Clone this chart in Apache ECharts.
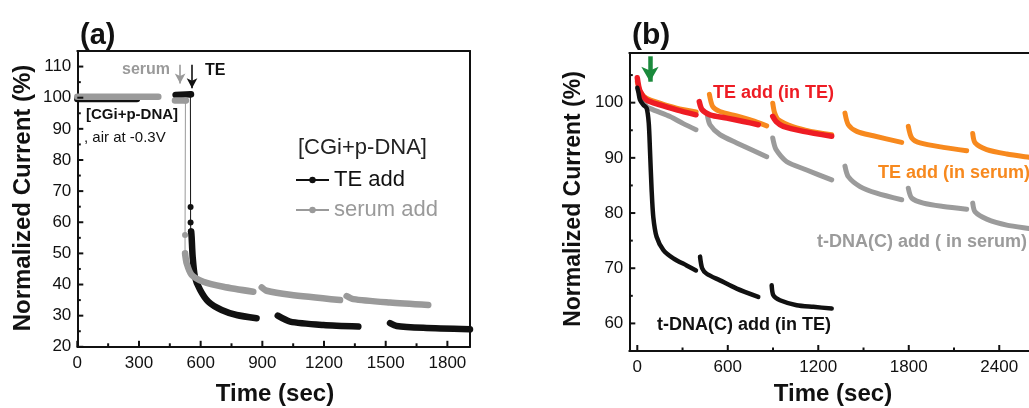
<!DOCTYPE html>
<html><head><meta charset="utf-8">
<script src="https://cdn.jsdelivr.net/npm/echarts@6/dist/echarts.min.js"></script>
<style>html,body{margin:0;padding:0;overflow:hidden;background:#fff;width:1029px;height:408px}#c{width:1100px;height:408px}</style>
</head><body><div id="c"></div><script>
// ---------- tick labels ----------
const aTicksX = [0, 300, 600, 900, 1200, 1500, 1800];
const aMinorX = [150, 450, 750, 1050, 1350, 1650];
const aTicksY = [20, 30, 40, 50, 60, 70, 80, 90, 100, 110];
const aMinorY = [25, 35, 45, 55, 65, 75, 85, 95, 105];
const bTicksX = [0, 600, 1200, 1800, 2400];
const bMinorX = [300, 900, 1500, 2100];
const bTicksY = [60, 70, 80, 90, 100];
const bMinorY = [65, 75, 85, 95, 105];

// ---------- panel (a) data (null = gap) ----------
const aTeTime   = [0, 290, null, 478, 553, null, 554, 556, 561, 572, 597, 637, 702, 775, 872, null, 975, 1035, 1197, 1367, null, 1521, 1553, 1683, 1910];
const aTeValue  = [99.6, 99.6, null, 100.9, 101.1, null, 57.0, 55.4, 49.0, 42.5, 38.3, 34.5, 31.8, 30.2, 29.2, null, 30.0, 28.1, 27.0, 26.5, null, 27.6, 26.7, 26.1, 25.6];
const aSerumTime  = [0, 394, null, 475, 528, null, 524, 532, 556, 613, 710, 856, null, 897, 921, 1035, 1278, null, 1310, 1343, 1521, 1707];
const aSerumValue = [100.3, 100.3, null, 99.1, 99.1, null, 50.0, 46.8, 43.1, 40.9, 39.3, 37.7, null, 39.1, 38.0, 36.7, 35.0, null, 36.3, 35.3, 34.2, 33.4];
// addition steps (drop points)
const aTeDropTime   = [550, 551, 551, 552];
const aTeDropValue  = [101.0, 64.9, 59.9, 57.0];
const aSerumDropTime  = [526, 524, 524];
const aSerumDropValue = [99.1, 55.9, 50.0];

// ---------- panel (b) data ----------
const bTdnaSerumTime  = [40, 62, 106, 217, 305, 389, null, 464, 482, 548, 659, 858, null, 898, 920, 991, 1123, 1289, null, 1377, 1399, 1477, 1587, 1753, null, 1797, 1820, 1897, 2029, 2184, null, 2224, 2240, 2317, 2450, 2598, 2680];
const bTdnaSerumValue = [100.5, 99.3, 98.7, 97.5, 96.2, 95.1, null, 97.8, 96.0, 94.2, 92.7, 90.2, null, 93.6, 91.5, 89.3, 87.8, 86.0, null, 88.5, 86.6, 84.8, 83.6, 82.4, null, 84.5, 82.7, 81.8, 81.2, 80.7, null, 81.8, 80.2, 78.9, 77.8, 77.2, 76.9];
const bTeSerumTime  = [0, 20, 60, 150, 260, 390, null, 478, 500, 548, 659, 760, 858, null, 898, 910, 935, 1035, 1150, 1289, null, 1377, 1399, 1455, 1565, 1753, null, 1797, 1820, 1875, 2029, 2184, null, 2224, 2240, 2317, 2450, 2598, 2680];
const bTeSerumValue = [103.8, 102.0, 100.8, 99.9, 99.0, 98.3, null, 101.5, 99.3, 98.4, 97.6, 96.8, 95.8, null, 99.9, 98.2, 96.9, 95.6, 94.8, 94.2, null, 98.1, 96.0, 94.8, 94.0, 92.8, null, 95.7, 93.6, 92.7, 91.9, 91.3, null, 94.4, 92.7, 91.5, 90.7, 90.1, 89.8];
const bTeTeTime  = [0, 18, 62, 150, 261, 389, null, 411, 430, 482, 593, 703, 802, null, 898, 920, 968, 1101, 1289];
const bTeTeValue = [104.5, 102.1, 100.5, 99.6, 98.7, 97.8, null, 100.2, 98.7, 97.8, 97.2, 96.6, 96.0, null, 97.5, 96.6, 95.7, 94.8, 93.9];
const bTdnaTeTime  = [0, 8, 18, 40, 62, 76, 84, 95, 106, 128, 173, 239, 327, 389, null, 416, 430, 460, 548, 659, 802, null, 891, 902, 946, 1057, 1167, 1289];
const bTdnaTeValue = [102.7, 101.8, 100.5, 99.6, 99.0, 96.3, 91.5, 84.2, 79.3, 75.7, 73.3, 71.8, 70.5, 69.6, null, 72.1, 70.0, 69.0, 67.8, 66.3, 64.8, null, 66.9, 65.1, 64.2, 63.3, 63.0, 62.7];

function pairs(t, v) { return t.map((x, i) => x === null ? ['-', '-'] : [x, v[i]]); }

const FONT = 'Liberation Sans, Arial, Helvetica, sans-serif';
const INK = '#111';
const GRAY_A = '#9a9a9a';
const GRAY_B = '#9b9b9b';
const RED = '#ee1c24';
const ORANGE = '#f7891e';
const GREEN = '#1b8a3c';

// main axis (labels) + opposite frame side
function axisSet(grid, dim, min, max, major) {
  const pos = dim === 'x' ? 'bottom' : 'left';
  const opp = dim === 'x' ? 'top' : 'right';
  const common = { gridIndex: grid, type: 'value', min: min, max: max, splitLine: { show: false } };
  return [
    Object.assign({}, common, { position: pos,
      axisLine: { show: true, onZero: false, lineStyle: { color: INK, width: 2 } },
      axisTick: { show: false },
      axisLabel: { show: true, customValues: major.slice(), color: INK, fontSize: 17, fontFamily: FONT, margin: dim === 'x' ? 8 : 6,
                   formatter: function (v) { return String(v); } }
    }),
    Object.assign({}, common, { position: opp,
      axisLine: { show: true, onZero: false, lineStyle: { color: INK, width: 2 } },
      axisTick: { show: false }, axisLabel: { show: false }
    })
  ];
}

function txt(x, y, text, font, fill, align, rot) {
  return { type: 'text', x: x, y: y, rotation: rot || 0, silent: true, z: 100,
    style: { text: text, font: font, fill: fill, align: align || 'left', verticalAlign: 'middle',
             textAlign: align || 'left', textVerticalAlign: 'middle' } };
}

const noEmph = { disabled: true };
function lineSeries(name, xi, t, v, color, width) {
  return { name: name, type: 'line', xAxisIndex: xi, yAxisIndex: xi, data: pairs(t, v),
    showSymbol: false, smooth: 0.25, lineStyle: { color: color, width: width, cap: 'round', join: 'round' },
    itemStyle: { color: color }, emphasis: noEmph, silent: true };
}
// inward tick marks drawn as tiny rect symbols through the axes' scales
function tickSeries(name, ai, dim, values, fixed, len) {
  const data = values.map(v => dim === 'x' ? [v, fixed] : [fixed, v]);
  return { name: name, type: 'scatter', xAxisIndex: ai, yAxisIndex: ai, data: data, clip: false,
    symbol: 'rect', symbolSize: dim === 'x' ? [2, len] : [len, 2], symbolOffset: dim === 'x' ? [0, -len / 2] : [len / 2, 0],
    itemStyle: { color: INK, opacity: 1 }, emphasis: noEmph, silent: true, z: 5 };
}
const sTdnaTe = lineSeries('t-DNA(C) add (in TE)', 2, bTdnaTeTime, bTdnaTeValue, INK, 4.5);
sTdnaTe.markLine = { silent: true, symbol: ['none', 'arrow'], symbolSize: [13, 15], label: { show: false }, emphasis: noEmph,
  lineStyle: { color: GREEN, width: 4.5, type: 'solid' }, data: [[{ coord: [84, 108.4] }, { coord: [84, 103.8] }]] };

const texts = [
  txt(80, 36, '(a)', 'bold 29px ' + FONT, INK),
  txt(23, 198, 'Normalized Current (%)', 'bold 24px ' + FONT, INK, 'center', Math.PI / 2),
  txt(275, 394, 'Time (sec)', 'bold 24px ' + FONT, INK, 'center'),
  txt(122, 70, 'serum', 'bold 16px ' + FONT, GRAY_A),
  txt(205, 71, 'TE', 'bold 16px ' + FONT, INK),
  txt(86, 115, '[CGi+p-DNA]', 'bold 15px ' + FONT, INK),
  txt(84, 138, ', air at -0.3V', '15px ' + FONT, INK),
  txt(298, 148, '[CGi+p-DNA]', '22px ' + FONT, '#222'),

  txt(632, 36, '(b)', 'bold 30px ' + FONT, INK),
  txt(574, 199, 'Normalized Current (%)', 'bold 23px ' + FONT, INK, 'center', Math.PI / 2),
  txt(833, 394, 'Time (sec)', 'bold 24px ' + FONT, INK, 'center'),
  txt(713, 93, 'TE add (in TE)', 'bold 18px ' + FONT, RED),
  txt(878, 173, 'TE add (in serum)', 'bold 18px ' + FONT, ORANGE),
  txt(817, 242, 't-DNA(C) add ( in serum)', 'bold 18px ' + FONT, GRAY_B),
  txt(657, 325, 't-DNA(C) add (in TE)', 'bold 18px ' + FONT, INK)
];

const chart = echarts.init(document.getElementById('c'), null, { renderer: 'canvas' });
chart.setOption({
  animation: false,
  backgroundColor: '#fff',
  grid: [
    { left: 77.3, top: 51, width: 392.7, height: 295.8 },
    { left: 629.3, top: 53, width: 415.2, height: 298 }
  ],
  xAxis: [].concat(axisSet(0, 'x', 0, 1910, aTicksX), axisSet(1, 'x', -53, 2700, bTicksX)),
  yAxis: [].concat(axisSet(0, 'y', 20, 115, aTicksY), axisSet(1, 'y', 55, 109, bTicksY)),
  legend: {
    left: 290, top: 163, orient: 'vertical', itemGap: 6, itemWidth: 33, itemHeight: 8,
    selectedMode: false,
    textStyle: { fontSize: 22, fontFamily: FONT, lineHeight: 24 },
    data: [
      { name: 'TE add', textStyle: { color: INK } },
      { name: 'serum add', textStyle: { color: GRAY_A } }
    ]
  },
  series: [
    tickSeries('tA_x', 0, 'x', aTicksX, 20, 6),
    tickSeries('tA_xm', 0, 'x', aMinorX, 20, 3.5),
    tickSeries('tA_y', 0, 'y', aTicksY, 0, 6),
    tickSeries('tA_ym', 0, 'y', aMinorY, 0, 3.5),
    tickSeries('tB_x', 2, 'x', bTicksX, 55, 6),
    tickSeries('tB_xm', 2, 'x', bMinorX, 55, 3.5),
    tickSeries('tB_y', 2, 'y', bTicksY, -53, 6),
    tickSeries('tB_ym', 2, 'y', bMinorY, -53, 3.5),

    lineSeries('TE trace', 0, aTeTime, aTeValue, INK, 6.5),
    lineSeries('serum trace', 0, aSerumTime, aSerumValue, GRAY_A, 6.5),
    { name: 'TE add', type: 'line', xAxisIndex: 0, yAxisIndex: 0, data: pairs(aTeDropTime, aTeDropValue),
      symbol: 'circle', symbolSize: 6, showSymbol: true, lineStyle: { color: INK, width: 1 }, itemStyle: { color: INK }, emphasis: noEmph, silent: true,
      markLine: { silent: true, symbol: ['none', 'arrow'], symbolSize: [8, 10], label: { show: false }, emphasis: noEmph,
        lineStyle: { color: INK, width: 1.6, type: 'solid' }, data: [[{ coord: [558, 110.6] }, { coord: [558, 103.0] }]] } },
    { name: 'serum add', type: 'line', xAxisIndex: 0, yAxisIndex: 0, data: pairs(aSerumDropTime, aSerumDropValue),
      symbol: 'circle', symbolSize: 6, showSymbol: true, lineStyle: { color: GRAY_A, width: 1 }, itemStyle: { color: GRAY_A }, emphasis: noEmph, silent: true,
      markLine: { silent: true, symbol: ['none', 'arrow'], symbolSize: [8, 10], label: { show: false }, emphasis: noEmph,
        lineStyle: { color: GRAY_A, width: 1.6, type: 'solid' }, data: [[{ coord: [500, 110.6] }, { coord: [500, 104.6] }]] } },

    lineSeries('t-DNA(C) add ( in serum)', 2, bTdnaSerumTime, bTdnaSerumValue, GRAY_B, 5),
    lineSeries('TE add (in serum)', 2, bTeSerumTime, bTeSerumValue, ORANGE, 5),
    lineSeries('TE add (in TE)', 2, bTeTeTime, bTeTeValue, RED, 5.5),
    sTdnaTe
  ],
  graphic: { elements: texts }
});
</script></body></html>
